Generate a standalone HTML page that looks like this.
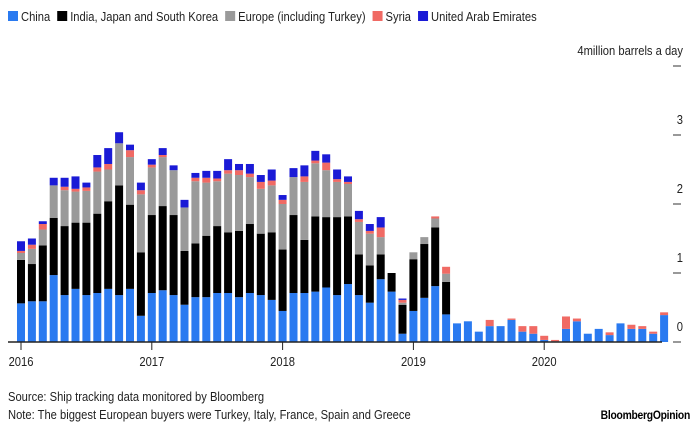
<!DOCTYPE html>
<html><head><meta charset="utf-8"><style>
body{margin:0;background:#fff;font-family:"Liberation Sans",sans-serif;}
#wrap{position:relative;width:700px;height:446px;overflow:hidden;}
svg text{font-family:"Liberation Sans",sans-serif;}
</style></head><body>
<div id="wrap">
<svg id="chart" width="700" height="446"></svg>
</div>
<script>
const months = Array.from({length:60},(_,i)=>(2016+Math.floor(i/12))+'-'+(i%12+1));
const china = [.56,.59,.59,.97,.68,.77,.68,.71,.77,.68,.77,.38,.71,.75,.68,.54,.65,.65,.71,.71,.65,.71,.68,.61,.45,.71,.71,.73,.79,.68,.84,.68,.57,.91,.73,.12,.45,.64,.81,.40,.27,.30,.15,.23,.23,.32,.15,.12,.03,.01,.19,.30,.12,.19,.10,.27,.19,.19,.12,.39];
const asia = [.63,.54,.81,.83,1.0,.96,1.05,1.15,1.27,1.59,1.22,.92,1.13,1.22,1.16,.78,.78,.89,.97,.88,.96,1.0,.89,.98,.89,1.13,.77,1.09,1.02,1.13,.98,.59,.54,.36,.27,.42,.75,.78,.85,.47,0,0,0,0,0,0,0,0,0,0,0,0,0,0,0,0,0,0,0,0];
const europe = [.10,.22,.23,.47,.52,.45,.46,.61,.46,.61,.69,.84,.69,.71,.65,.63,.90,.77,.65,.85,.81,.68,.65,.68,.66,.55,.84,.77,.68,.51,.47,.47,.46,.25,0,.03,.10,.10,.13,.12,0,0,0,0,0,0,0,0,0,0,0,0,0,0,0,0,0,0,0,0];
const syria = [.03,.06,.08,0,.05,.04,.05,.06,.08,0,.10,.06,.04,.03,0,0,.05,.07,.04,.05,.07,.05,.10,.07,.06,0,.08,.04,.11,.04,.03,.04,.04,.14,0,.04,0,0,.03,.10,0,0,0,.09,0,.02,.08,.11,.06,.02,.18,.04,0,0,.04,0,.06,.04,.03,.04];
const uae = [.14,.09,.04,.11,.13,.18,.07,.18,.23,.16,.08,.11,.08,.10,.07,.11,.07,.10,.11,.16,.09,.14,.10,.16,.07,.13,.16,.14,.12,.14,.08,.12,.10,.15,0,.02,0,0,0,0,0,0,0,0,0,0,0,0,0,0,0,0,0,0,0,0,0,0,0,0];
const seriesNames = ['China','India, Japan and South Korea','Europe (including Turkey)','Syria','United Arab Emirates'];
const seriesColors = ['#2a7af0','#000000','#9a9a9a','#f06a64','#1a1ad6'];
const yTicks = [0,1,2,3,4];
const yTickLabels = ['0','1','2','3','4million barrels a day'];
const years = ['2016','2017','2018','2019','2020'];

const NS='http://www.w3.org/2000/svg';
const svg=document.getElementById('chart');
const base=342, pxPerUnit=69, x0=21, step=10.9, bw=8, squeeze=0.86;
const y=v=>base-v*pxPerUnit;
const x=i=>x0+i*step;
function mk(tag,attrs,parent){const e=document.createElementNS(NS,tag);for(const k in attrs)e.setAttribute(k,attrs[k]);(parent||svg).appendChild(e);return e;}
function narrow(t){const w=t.getComputedTextLength()*squeeze;t.setAttribute('textLength',w);t.setAttribute('lengthAdjust','spacingAndGlyphs');return w;}

// legend
let lx=8;
seriesNames.forEach((n,k)=>{
  const g=mk('g',{});
  
  
  mk('rect',{x:lx,y:11,width:10,height:10,fill:seriesColors[k]},g);
  const t=mk('text',{x:lx+13,y:21,'font-size':13,fill:'#222'},g);
  t.textContent=n;
  lx+=13+narrow(t)+7;
});

// y axis ticks & labels
yTicks.forEach((v,k)=>{
  const tk=mk('line',{x1:673,x2:681,y1:y(v),y2:y(v),stroke:'#333','stroke-width':1});
  
  
  const t=mk('text',{x:683,y:y(v)-11,'font-size':13,fill:'#222','text-anchor':'end'});
  
  
  t.textContent=yTickLabels[k];
  narrow(t);
});

// bars
const all=[china,asia,europe,syria,uae];
months.forEach((m,i)=>{
  let cum=0;
  all.forEach((s,k)=>{
    const v=s[i]; if(!v) return;
    const r=mk('rect',{x:x(i)-bw/2,y:y(cum+v),width:bw,height:v*pxPerUnit,fill:seriesColors[k]});
    
    
    cum+=v;
  });
});

// x axis
const ax=mk('line',{x1:8,x2:662,y1:base,y2:base,stroke:'#222','stroke-width':1.5});


years.forEach((yr,k)=>{
  const cx=x(k*12);
  const tk=mk('line',{x1:cx,x2:cx,y1:base,y2:base+8,stroke:'#222','stroke-width':1});
  
  
  const t=mk('text',{x:cx,y:base+24,'font-size':13,fill:'#222','text-anchor':'middle'});
  
  
  t.textContent=yr;
  narrow(t);
});

// notes
const s1=mk('text',{x:8,y:401,'font-size':13,fill:'#222'});


s1.textContent='Source: Ship tracking data monitored by Bloomberg';
narrow(s1);
const s2=mk('text',{x:8,y:419,'font-size':13,fill:'#222'});


s2.textContent='Note: The biggest European buyers were Turkey, Italy, France, Spain and Greece';
narrow(s2);
const lg=mk('text',{x:690,y:419,'font-size':12,'font-weight':'bold',fill:'#000','text-anchor':'end','letter-spacing':'-0.3'});


lg.textContent='BloombergOpinion';
narrow(lg);
</script>
</body></html>
